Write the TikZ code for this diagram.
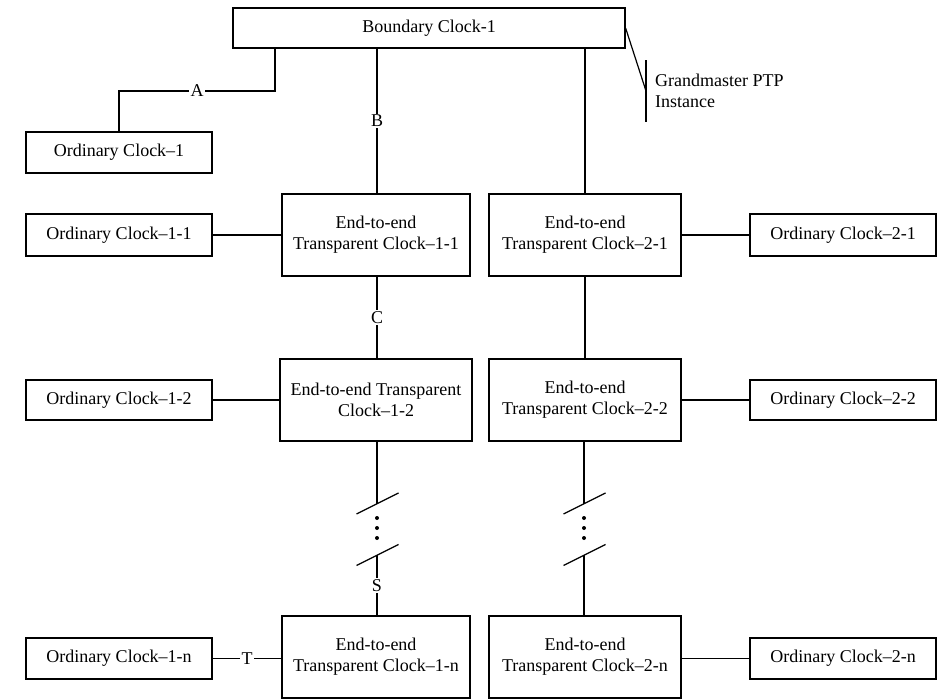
\documentclass[tikz,border=0pt]{standalone}
\usepackage{fontspec}
\setmainfont{Liberation Serif}
\begin{document}
\begin{tikzpicture}[x=1pt,y=-1pt,
  every node/.style={font=\fontsize{18}{21}\selectfont},
  box/.style={draw,line width=1.2pt,rectangle,inner sep=0pt,align=center,minimum height=41pt,minimum width=186pt},
  tc/.style={box,minimum height=82pt},
  conn/.style={line width=1.2pt},
  lbl/.style={fill=white,inner sep=1.5pt},
  dot/.style={circle,fill=black,inner sep=0pt,minimum size=4pt}
]
\useasboundingbox (0,0) rectangle (945,699);
% nodes
\node[box,minimum width=392pt,minimum height=40pt] (bc) at (429,28) {Boundary Clock-1};
\node[box] (oc1) at (119,152.5) {Ordinary Clock--1};
\node[tc,minimum width=188pt] (tc11) at (376,235) {End-to-end\\Transparent Clock--1-1};
\node[tc,minimum width=192pt] (tc21) at (585,235) {End-to-end\\Transparent Clock--2-1};
\node[box,minimum height=42pt] (oc11) at (119,235) {Ordinary Clock--1-1};
\node[box,minimum height=42pt] (oc21) at (843,235) {Ordinary Clock--2-1};
\node[tc,minimum width=192pt] (tc12) at (376,400) {End-to-end Transparent\\Clock--1-2};
\node[tc,minimum width=192pt] (tc22) at (585,400) {End-to-end\\Transparent Clock--2-2};
\node[box,minimum height=40pt] (oc12) at (119,400) {Ordinary Clock--1-2};
\node[box,minimum height=40pt] (oc22) at (843,400) {Ordinary Clock--2-2};
\node[tc,minimum width=188pt] (tc1n) at (376,657) {End-to-end\\Transparent Clock--1-n};
\node[tc,minimum width=192pt] (tc2n) at (585,657) {End-to-end\\Transparent Clock--2-n};
\node[box] (oc1n) at (119,658.5) {Ordinary Clock--1-n};
\node[box] (oc2n) at (843,658.5) {Ordinary Clock--2-n};
\node[anchor=west,align=left,inner sep=0pt] (gmt) at (655,91) {Grandmaster PTP\\Instance};
% coordinates
\coordinate (a1) at (275,91);
\coordinate (gm) at (646,91);
\coordinate (gmtop) at (646,60);
\coordinate (gmbot) at (646,122);
\coordinate (l1) at (377,503.5);
\coordinate (l1a) at (356.5,514);
\coordinate (l1b) at (398.5,493);
\coordinate (l2) at (377,555);
\coordinate (l2a) at (356.5,565.5);
\coordinate (l2b) at (398.5,544.5);
\coordinate (r1) at (584,503.5);
\coordinate (r1a) at (563.5,514);
\coordinate (r1b) at (605.5,493);
\coordinate (r2) at (584,555);
\coordinate (r2a) at (563.5,565.5);
\coordinate (r2b) at (605.5,544.5);
% connectors
\draw[conn] (bc.south -| a1) -- (a1) -- node[lbl]{A} (a1 -| oc1.north) -- (oc1.north);
\draw[conn] (bc.south -| l1) -- node[lbl]{B} (tc11.north -| l1);
\draw[conn] (bc.south -| tc21.north) -- (tc21.north);
\draw[conn] (bc.east) -- (gm);
\draw[conn] (gmtop) -- (gmbot);
\draw[conn] (tc11.south -| l1) -- node[lbl]{C} (tc12.north -| l1);
\draw[conn] (tc21.south) -- (tc22.north);
\draw[conn] (oc11.east) -- (tc11.west);
\draw[conn] (tc21.east) -- (oc21.west);
\draw[conn] (oc12.east) -- (tc12.west);
\draw[conn] (tc22.east) -- (oc22.west);
\draw[conn] (oc1n.east) -- node[lbl]{T} (oc1n.east -| tc1n.west);
\draw[conn] (oc2n.west -| tc2n.east) -- (oc2n.west);
% breaks
\draw[conn] (tc12.south -| l1) -- (l1);
\draw[conn] (l1a) -- (l1b);
\draw[conn] (l2a) -- (l2b);
\draw[conn] (l2) -- node[lbl]{S} (tc1n.north -| l2);
\node[dot] (d1) at (377,518) {};
\node[dot] (d2) at (377,528) {};
\node[dot] (d3) at (377,538) {};
\draw[conn] (tc22.south -| r1) -- (r1);
\draw[conn] (r1a) -- (r1b);
\draw[conn] (r2a) -- (r2b);
\draw[conn] (r2) -- (tc2n.north -| r2);
\node[dot] (e1) at (584,518) {};
\node[dot] (e2) at (584,528) {};
\node[dot] (e3) at (584,538) {};
\end{tikzpicture}
\end{document}
